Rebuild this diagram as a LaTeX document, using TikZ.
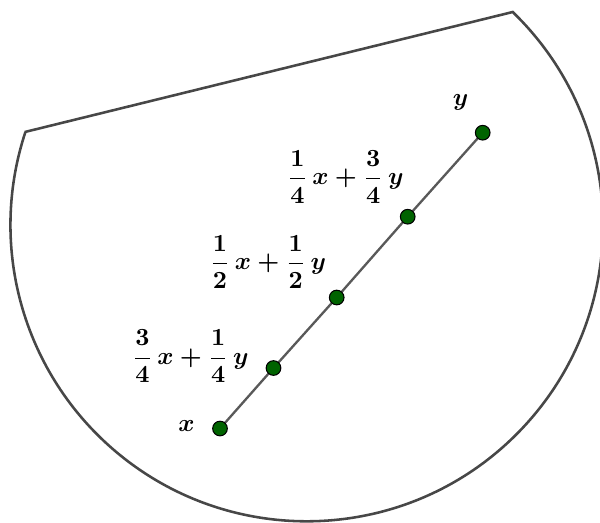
\documentclass[tikz,border=0pt]{standalone}
\usepackage{amsmath}
\begin{document}
\begin{tikzpicture}[x=0.43pt,y=-0.43pt,
  outline/.style={draw=black!72,line width=1.1pt,line join=miter},
  seg/.style={draw=black!65,line width=1pt},
  dot/.style={circle,draw=black,line width=0.45pt,fill=green!39!black,minimum size=6.3pt,inner sep=0pt},
  lab/.style={font=\boldmath,inner sep=0pt,scale=1.06}]
\useasboundingbox (0,0) rectangle (600,522);
\coordinate (A) at (24.8,132);
\coordinate (B) at (512.7,12);
\draw[outline] (A) -- (B) arc[start angle=-45.96,end angle=198.3,radius=296.3] -- cycle;
\coordinate (px) at (220,428.5);
\coordinate (py) at (482.7,132.7);
\coordinate (p1) at (273.5,368);
\coordinate (p2) at (336.7,297.5);
\coordinate (p3) at (407.7,216.7);
\draw[seg] (px) -- (p1) -- (p2) -- (p3) -- (py);
\node[dot] (dx) at (px) {};
\node[dot] (dy) at (py) {};
\node[dot] (d1) at (p1) {};
\node[dot] (d2) at (p2) {};
\node[dot] (d3) at (p3) {};
\node[lab] (ly) at (460.5,102) {$y$};
\node[lab] (lx) at (186.5,426) {$x$};
\node[lab] (l3) at (345.5,177) {$\displaystyle\frac{1}{4}\,x+\frac{3}{4}\,y$};
\node[lab] (l2) at (268,262) {$\displaystyle\frac{1}{2}\,x+\frac{1}{2}\,y$};
\node[lab] (l1) at (190.5,356.5) {$\displaystyle\frac{3}{4}\,x+\frac{1}{4}\,y$};
\end{tikzpicture}
\end{document}
